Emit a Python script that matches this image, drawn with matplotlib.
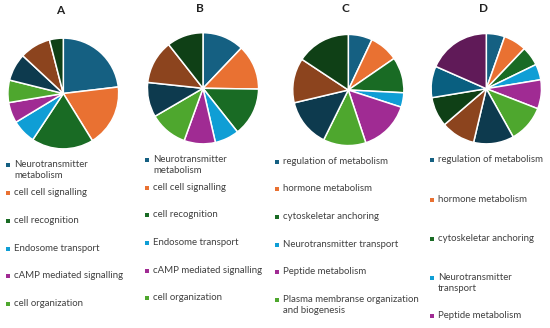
import matplotlib
matplotlib.use("Agg")
import matplotlib.pyplot as plt
from matplotlib.patches import Rectangle

plt.rcParams['font.family'] = ['Lato', 'DejaVu Sans']

# slice shares (percent), clockwise from 12 o'clock
vals_a = [23, 18, 18, 7, 6, 6.5, 8, 9, 4]
vals_b = [12, 13, 14, 7, 9, 11, 10, 12.6, 10.5]
vals_c = [7, 8.4, 10.4, 4.2, 14.9, 12.4, 14, 13, 15.7]
vals_d = [5.4, 6.7, 5.7, 4.6, 8.5, 11, 11.8, 10, 8.7, 9.2, 18.4]

labels_ab = ['Neurotransmitter\nmetabolism', 'cell cell signalling', 'cell recognition',
             'Endosome transport', 'cAMP mediated signalling', 'cell organization']
labels_c = ['regulation of metabolism', 'hormone metabolism', 'cytoskeletar anchoring',
            'Neurotransmitter transport', 'Peptide metabolism',
            'Plasma membranse organization\nand biogenesis']
labels_d = ['regulation of metabolism', 'hormone metabolism', 'cytoskeletar anchoring',
            'Neurotransmitter\ntransport', 'Peptide metabolism']

# office palette: accents then darker accents
colors = ['#156082', '#E97132', '#196B24', '#0F9ED5', '#A02B93', '#4EA72E',
          '#0D3A4E', '#8C441E', '#0F4016', '#095F80', '#601A58']

W, H = 550, 328
fig = plt.figure(figsize=(5.5, 3.28), dpi=100)

# overlay axes in pixel coordinates for titles and legends
bg = fig.add_axes([0, 0, 1, 1])
bg.set_xlim(0, W)
bg.set_ylim(H, 0)
bg.axis('off')

panels = [
    # title, values, labels, pie centre/radius, title pos, legend x, legend line ys
    ('A', vals_a, labels_ab, (63.3, 93.5, 56.5), (60, 10), 8, [165, 193, 221, 249, 276, 304]),
    ('B', vals_b, labels_ab, (203, 88.3, 56.7), (200, 9), 147, [160, 188, 215, 243, 271, 298]),
    ('C', vals_c, labels_c, (348.3, 90, 56.7), (345, 9), 277, [162, 189, 217, 245, 272, 300]),
    ('D', vals_d, labels_d, (486.3, 88.7, 56.3), (483, 8), 432, [160, 200, 239, 278, 316]),
]

for title, vals, labels, (cx, cy, r), (tx, ty), lx, lys in panels:
    ax = fig.add_axes([(cx - r) / W, 1 - (cy + r) / H, 2 * r / W, 2 * r / H])
    ax.pie(vals, colors=colors[:len(vals)], startangle=90, counterclock=False,
           wedgeprops=dict(edgecolor='white', linewidth=1.1))
    ax.set_xlim(-1.02, 1.02)
    ax.set_ylim(-1.02, 1.02)
    bg.text(tx, ty, title, ha='center', va='center', fontsize=8.5, fontweight='bold',
            color='#222222')
    for lab, y, col in zip(labels, lys, colors):
        bg.add_patch(Rectangle((lx - 2, y - 2), 4, 4, facecolor=col, edgecolor='none'))
        bg.text(lx + 6, y - 5, lab, ha='left', va='top', fontsize=6.9,
                color='#404040', linespacing=1.25)

fig.savefig('out.png', dpi=100)
